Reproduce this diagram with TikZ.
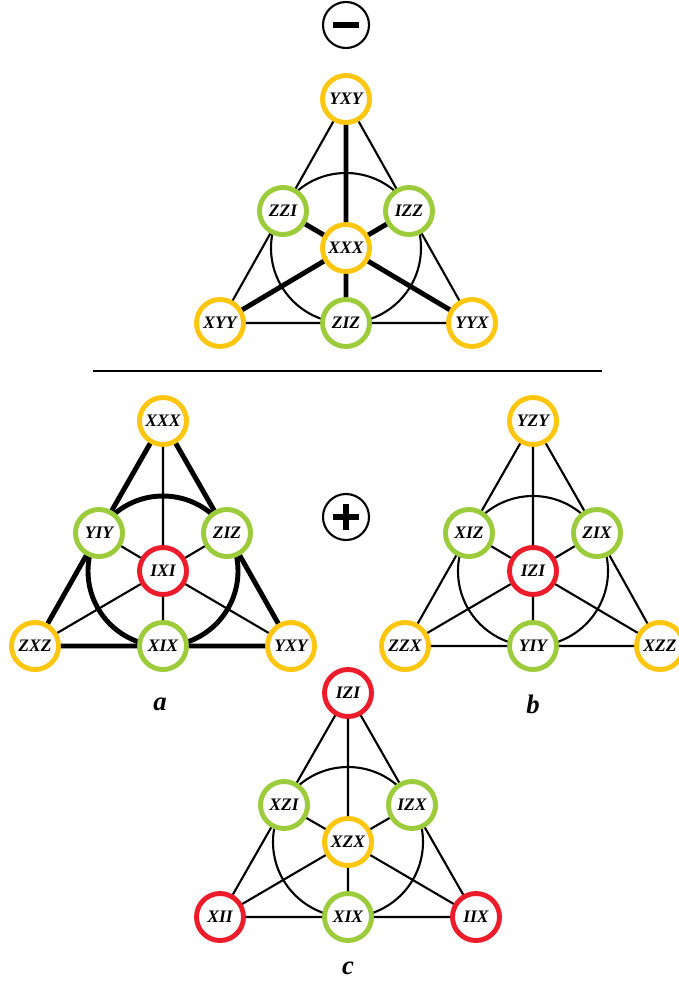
\documentclass[tikz,border=0pt]{standalone}
\usepackage{fontspec}
\setmainfont{Liberation Serif}
\usetikzlibrary{calc}
\definecolor{qyellow}{HTML}{FFC60F}
\definecolor{qgreen}{HTML}{9CCB3B}
\definecolor{qred}{HTML}{EC1C2A}
\tikzset{
  op/.style={circle, fill=white, line width=3.5pt, minimum size=1.175cm, inner sep=0pt,
    font=\bfseries\itshape\fontsize{12.5}{12.5}\selectfont},
  ylw/.style={op, draw=qyellow},
  grn/.style={op, draw=qgreen},
  rd/.style={op, draw=qred},
  ln/.style={line width=1.5pt},
  thk/.style={line width=3.5pt},
  sgn/.style={circle, draw, line width=1.5pt, minimum size=1.15cm, inner sep=0pt},
  tag/.style={font=\bfseries\itshape\fontsize{19}{19}\selectfont}
}

\begin{document}
\begin{tikzpicture}[x=0.025cm, y=-0.025cm]
			%%%%% FRAME %%%%%
			\useasboundingbox (0,0) rectangle (678,987);
			
			%%%%% MINUS %%%%%
			\node[sgn] (minus) at (346,25) {};
			\draw[line width=3.6pt] ($(minus)+(-13,0)$) -- ($(minus)+(13,0)$);
			
			\draw[ln] (346,248) circle (75);
			\node[ylw] (t1) at (346,99) {YXY};
			\node[grn] (t2) at (283,211) {ZZI};
			\node[grn] (t3) at (409,211) {IZZ};
			\node[ylw] (t0) at (346,248) {XXX};
			\node[ylw] (t4) at (220,323) {XYY};
			\node[grn] (t5) at (346,323) {ZIZ};
			\node[ylw] (t6) at (472,323) {YYX};
			
			\draw[ln] (93,371) -- (602,371);
			
			%%%%% PLUS %%%%%
			\node[sgn] (plus) at (346,517) {};
			\draw[line width=3.6pt] ($(plus)+(-13,0)$) -- ($(plus)+(13,0)$);
			\draw[line width=3.6pt] ($(plus)+(0,-13)$) -- ($(plus)+(0,13)$);
			
			% a
			\draw[thk] (163,571) circle (75);
			\node[ylw] (a1) at (163,421) {XXX};
			\node[grn] (a2) at (99,533) {YIY};
			\node[grn] (a3) at (227,533) {ZIZ};
			\node[rd] (a0) at (163,571) {IXI};
			\node[ylw] (a4) at (35,646) {ZXZ};
			\node[grn] (a5) at (163,646) {XIX};
			\node[ylw] (a6) at (291,646) {YXY};
			\node[tag] (la) at (160,704) {a};
			
			% b
			\draw[ln] (533,571) circle (75);
			\node[ylw] (b1) at (533,421) {YZY};
			\node[grn] (b2) at (469,533) {XIZ};
			\node[grn] (b3) at (597,533) {ZIX};
			\node[rd] (b0) at (533,571) {IZI};
			\node[ylw] (b4) at (405,646) {ZZX};
			\node[grn] (b5) at (533,646) {YIY};
			\node[ylw] (b6) at (660,646) {XZZ};
			\node[tag] (lb) at (533,704) {b};
			
			% c
			\draw[ln] (348,842) circle (75);
			\node[rd] (c1) at (348,693) {IZI};
			\node[grn] (c2) at (284,805) {XZI};
			\node[grn] (c3) at (412,805) {IZX};
			\node[ylw] (c0) at (348,842) {XZX};
			\node[rd] (c4) at (220,917) {XII};
			\node[grn] (c5) at (348,917) {XIX};
			\node[rd] (c6) at (476,917) {IIX};
			\node[tag] (lc) at (348,968) {c};
			
			%%%%% LINES %%%%%
			\foreach \p/\s in {t/ln, a/thk, b/ln, c/ln}
			  \draw[\s] (\p1) -- (\p2) (\p2) -- (\p4) (\p4) -- (\p5)
			    (\p5) -- (\p6) (\p6) -- (\p3) (\p3) -- (\p1);
			\foreach \p/\s in {t/thk, a/ln, b/ln, c/ln}
			  \draw[\s] (\p1) -- (\p0) (\p0) -- (\p5) (\p2) -- (\p0)
			    (\p0) -- (\p6) (\p3) -- (\p0) (\p0) -- (\p4);
			
			%%%%% END %%%%%
\end{tikzpicture}
\end{document}
